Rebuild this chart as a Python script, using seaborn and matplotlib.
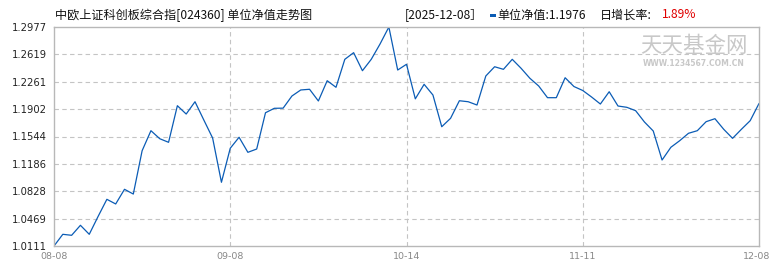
import matplotlib
matplotlib.use("Agg")
import matplotlib.pyplot as plt
from matplotlib.patches import Rectangle
from matplotlib.transforms import ScaledTranslation
import seaborn as sns
import pandas as pd

title = "中欧上证科创板综合指[024360] 单位净值走势图"
date_label = "[2025-12-08］"
nav_label = "单位净值:1.1976"
chg_label = "日增长率:"
chg_value = "1.89%"

nav = [1.0111, 1.0264, 1.0251, 1.0382, 1.0264, 1.0497, 1.0722, 1.0661, 1.0853, 1.0791,
       1.1358, 1.1620, 1.1515, 1.1468, 1.1947, 1.1838, 1.1999, 1.1760, 1.1524, 1.0945,
       1.1390, 1.1534, 1.1337, 1.1380, 1.1855, 1.1913, 1.1915, 1.2074, 1.2153, 1.2162,
       1.2009, 1.2274, 1.2188, 1.2554, 1.2641, 1.2405, 1.2554, 1.2755, 1.2977, 1.2414,
       1.2489, 1.2037, 1.2227, 1.2087, 1.1672, 1.1782, 1.2012, 1.1999, 1.1956, 1.2336,
       1.2457, 1.2423, 1.2554, 1.2437, 1.2306, 1.2205, 1.2052, 1.2052, 1.2313, 1.2198,
       1.2146, 1.2061, 1.1969, 1.2130, 1.1943, 1.1926, 1.1882, 1.1734, 1.1616, 1.1236,
       1.1403, 1.1489, 1.1586, 1.1620, 1.1738, 1.1777, 1.1638, 1.1520, 1.1638, 1.1751,
       1.1976]
day_index = list(range(len(nav)))

x_tick_pos = [0, 20, 40, 60, 80]
x_tick_labels = ["08-08", "09-08", "10-14", "11-11", "12-08"]
y_ticks = [1.0111, 1.0469, 1.0828, 1.1186, 1.1544, 1.1902, 1.2261, 1.2619, 1.2977]
y_tick_labels = ["1.0111", "1.0469", "1.0828", "1.1186", "1.1544", "1.1902", "1.2261", "1.2619", "1.2977"]

sns.set_style("white")
plt.rcParams["font.family"] = ["Noto Sans CJK SC", "DejaVu Sans"]

df = pd.DataFrame({"idx": day_index, "nav": nav})

W, H = 770, 270
fig = plt.figure(figsize=(7.7, 2.7), dpi=100)
ax = fig.add_axes([54 / W, 1 - 246 / H, (759 - 54) / W, (246 - 27) / H])

sns.lineplot(data=df, x="idx", y="nav", ax=ax, color="#0b5cb5", linewidth=0.9)

ax.set_xlim(0, len(nav) - 1)
ax.set_ylim(y_ticks[0], y_ticks[-1])
ax.set_xlabel("")
ax.set_ylabel("")

ax.set_yticks(y_ticks)
ax.set_yticklabels(y_tick_labels, fontsize=7.2, color="#222222", family="DejaVu Sans")
ax.set_xticks(x_tick_pos)
ax.set_xticklabels(x_tick_labels, fontsize=6.8, color="#888888", family="DejaVu Sans")
ax.tick_params(axis="y", length=3, color="#b0b0b0", pad=2, width=0.8)
ax.tick_params(axis="x", length=0, pad=4)

last = ax.get_xticklabels()[-1]
last.set_ha("right")
last.set_transform(last.get_transform() + ScaledTranslation(11 / 100, 0, fig.dpi_scale_trans))

for y in y_ticks[1:-1]:
    ax.axhline(y, color="#c4c4c4", linestyle=(0, (4, 3)), linewidth=0.8, zorder=0)
for x in x_tick_pos[1:-1]:
    ax.axvline(x, color="#c4c4c4", linestyle=(0, (4, 3)), linewidth=0.8, zorder=0)

for s in ax.spines.values():
    s.set_visible(True)
    s.set_color("#b8b8b8")
    s.set_linewidth(1.0)

# header texts
ty = 1 - 15 / H
fs = 8.7
fig.text(55 / W, ty, title, fontsize=fs, color="#111111", ha="left", va="center")
fig.text(405 / W, ty, date_label, fontsize=fs, color="#111111", ha="left", va="center")
fig.add_artist(Rectangle((490 / W, 1 - 16.5 / H), 6 / W, 3 / H, transform=fig.transFigure,
                         color="#0b5cb5", lw=0))
fig.text(497 / W, ty, nav_label, fontsize=fs, color="#111111", ha="left", va="center")
fig.text(600 / W, ty, chg_label, fontsize=fs, color="#111111", ha="left", va="center")
fig.text(662 / W, ty, chg_value, fontsize=fs, color="#e00000", ha="left", va="center")

# watermark
fig.text(694 / W, 1 - 46 / H, "天天基金网", fontsize=15.5, color="#c8c8c8", ha="center", va="center")
fig.text(694 / W, 1 - 63 / H, "WWW.1234567.COM.CN", fontsize=5.5, color="#c8c8c8",
         ha="center", va="center", family="DejaVu Sans", fontweight="bold")

fig.savefig("out.png", dpi=100)
